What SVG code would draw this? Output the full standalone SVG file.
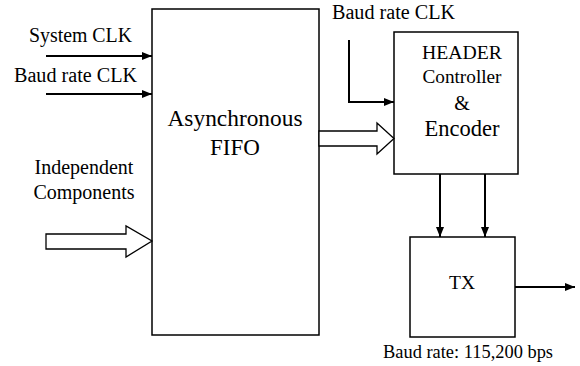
<svg xmlns="http://www.w3.org/2000/svg" width="580" height="366" viewBox="0 0 580 366" font-family="'Liberation Serif', 'DejaVu Serif', serif">
  <style>
    .box { fill: #fff; stroke: #000; stroke-width: 1.5; }
    .wire { fill: none; stroke: #000; stroke-width: 2; }
    .bus { fill: #fff; stroke: #000; stroke-width: 1.3; stroke-linejoin: miter; }
    text { font-family: "Liberation Serif", "DejaVu Serif", serif; fill: #000; }
    .lbl { font-size: 20px; }
    .mid { text-anchor: middle; }
  </style>
  <defs>
    <marker id="head" viewBox="0 0 10 8" refX="10" refY="4" markerWidth="10" markerHeight="8" markerUnits="userSpaceOnUse" orient="auto">
      <path d="M0,0 L10,4 L0,8 Z" fill="#000"/>
    </marker>
  </defs>

  <rect width="580" height="366" fill="#fff"/>

  <g id="fifo">
    <rect class="box" x="152" y="9" width="167" height="326"/>
    <text class="mid" x="235" y="126" font-size="23" textLength="135" lengthAdjust="spacingAndGlyphs">Asynchronous</text>
    <text class="mid" x="235" y="155" font-size="23">FIFO</text>
  </g>

  <g id="header">
    <rect class="box" x="394" y="32" width="124" height="142"/>
    <text class="mid" x="462" y="59" font-size="19.5" textLength="80" lengthAdjust="spacingAndGlyphs">HEADER</text>
    <text class="mid" x="462" y="83" font-size="19" textLength="79" lengthAdjust="spacingAndGlyphs">Controller</text>
    <text class="mid" x="462" y="110" font-size="20">&amp;</text>
    <text class="mid" x="462" y="136" font-size="22.5" textLength="75" lengthAdjust="spacingAndGlyphs">Encoder</text>
  </g>

  <g id="tx">
    <rect class="box" x="410" y="237" width="105" height="100"/>
    <text class="mid" x="462" y="289" font-size="19.5">TX</text>
  </g>

  <g id="labels">
    <text class="lbl" x="29" y="42" textLength="103" lengthAdjust="spacingAndGlyphs">System CLK</text>
    <text class="lbl" x="14" y="82" textLength="123" lengthAdjust="spacingAndGlyphs">Baud rate CLK</text>
    <text class="lbl mid" x="84" y="174">Independent</text>
    <text class="lbl mid" x="84" y="199">Components</text>
    <text class="lbl" x="332" y="19" textLength="123" lengthAdjust="spacingAndGlyphs">Baud rate CLK</text>
    <text x="383" y="358" font-size="18.3" textLength="170" lengthAdjust="spacingAndGlyphs">Baud rate: 115,200 bps</text>
  </g>

  <g id="connectors">
    <line class="wire" x1="46" y1="56" x2="152" y2="56" marker-end="url(#head)"/>
    <line class="wire" x1="46" y1="94" x2="152" y2="94" marker-end="url(#head)"/>
    <polyline class="wire" points="349,40 349,102 394,102" marker-end="url(#head)"/>
    <line class="wire" x1="440" y1="174" x2="440" y2="237" marker-end="url(#head)"/>
    <line class="wire" x1="485" y1="174" x2="485" y2="237" marker-end="url(#head)"/>
    <line class="wire" x1="515" y1="287" x2="575" y2="287" marker-end="url(#head)"/>
    <!-- hollow bus arrows -->
    <path class="bus" d="M46,234 L126,234 L126,226 L152,241 L126,257 L126,249 L46,249 Z"/>
    <path class="bus" d="M319,131 L377,131 L377,123 L394,138.5 L377,154 L377,146 L319,146 Z"/>
  </g>
</svg>
